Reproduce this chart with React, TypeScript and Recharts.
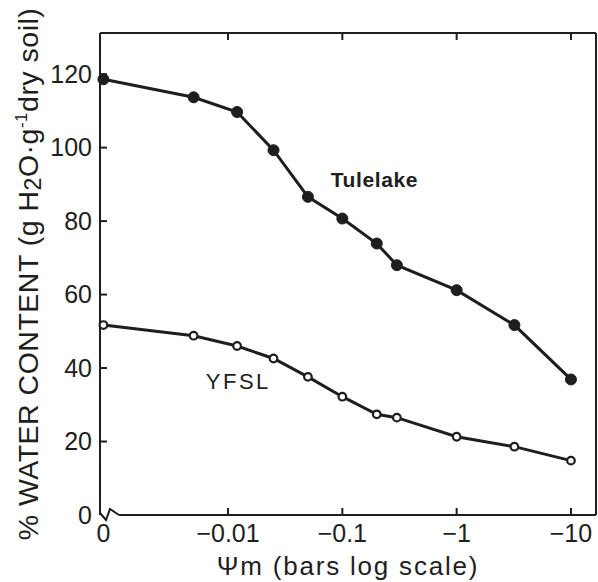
import { LineChart, Line, XAxis, YAxis, ReferenceDot, Label } from "recharts";

// matric potential (bars)
const PSI_BARS = [0, -0.005, -0.012, -0.025, -0.05, -0.1, -0.2, -0.3, -1, -3.2, -10];
// % water content
const TULELAKE = [118.6, 113.7, 109.7, 99.3, 86.6, 80.7, 73.9, 68.0, 61.2, 51.7, 36.9];
const YFSL = [51.7, 48.8, 46.0, 42.6, 37.6, 32.2, 27.4, 26.5, 21.3, 18.6, 14.8];

const X_TICKS = [0, -0.01, -0.1, -1, -10];
const X_TICK_LABELS = ["0", "−0.01", "−0.1", "−1", "−10"];
const Y_TICKS = [0, 20, 40, 60, 80, 100, 120];
const Y_FRAME_TICKS = [20, 40, 60, 80, 100, 120];

// zero has no log, it sits just left of the axis break
const ZERO_POS = -3.09;
const X_DOMAIN: [number, number] = [-3.12, 1.219];
const Y_DOMAIN: [number, number] = [0, 131.2];

const toPos = (psi: number) => (psi === 0 ? ZERO_POS : Math.log10(-psi));

const data = PSI_BARS.map((psi, i) => ({
  pos: toPos(psi),
  tulelake: TULELAKE[i],
  yfsl: YFSL[i],
}));
const xTickPos = X_TICKS.map(toPos);

const INK = "#1e1e1e";
const FONT = "'Liberation Sans', Arial, sans-serif";

function xLabelFor(v: number) {
  let best = 0;
  xTickPos.forEach((p, i) => {
    if (Math.abs(p - v) < Math.abs(xTickPos[best] - v)) best = i;
  });
  return X_TICK_LABELS[best];
}

function XTick(props: any) {
  const { x, y, payload } = props;
  const isZero = Math.abs(payload.value - ZERO_POS) < 1e-6;
  return (
    <g>
      {!isZero && <line x1={x} x2={x} y1={y - 9} y2={y - 16} stroke={INK} strokeWidth={2} />}
      <text x={x} y={y} dy="0.71em" textAnchor="middle" fontFamily={FONT} fontSize={25} fill={INK}>
        {xLabelFor(payload.value)}
      </text>
    </g>
  );
}

function YTick(props: any) {
  const { x, y, payload } = props;
  const ax = x + 8;
  return (
    <g>
      {payload.value !== 0 && <line x1={ax} x2={ax + 7} y1={y} y2={y} stroke={INK} strokeWidth={2} />}
      {payload.value === 0 && (
        <path
          d={`M ${ax} ${y - 2} L ${ax + 6} ${y + 5} L ${ax + 10} ${y - 6} L ${ax + 19} ${y}`}
          fill="none"
          stroke={INK}
          strokeWidth={2}
        />
      )}
      <text x={x} y={y} dy="0.355em" textAnchor="end" fontFamily={FONT} fontSize={25} fill={INK}>
        {payload.value}
      </text>
    </g>
  );
}

function YTitle(props: any) {
  const vb = props.viewBox || { x: 0, y: 33, height: 482 };
  const cx = vb.x + 38;
  const cy = vb.y + vb.height / 2;
  return (
    <text
      x={cx}
      y={cy}
      transform={`rotate(-90 ${cx} ${cy})`}
      textAnchor="middle"
      fontFamily={FONT}
      fontSize={28.5}
      letterSpacing={0.5}
      fill={INK}
    >
      % WATER CONTENT (g H
      <tspan fontSize={23} dy={3}>2</tspan>
      <tspan dy={-3}>O·g</tspan>
      <tspan fontSize={17} dy={-11}>-1</tspan>
      <tspan dy={11}>dry soil)</tspan>
    </text>
  );
}

function XTitle(props: any) {
  const vb = props.viewBox || { x: 100, y: 515, width: 496 };
  return (
    <text
      x={vb.x + vb.width / 2}
      y={vb.y + 60}
      textAnchor="middle"
      fontFamily={FONT}
      fontSize={26}
      letterSpacing={1.8}
      fill={INK}
    >
      Ψm (bars log scale)
    </text>
  );
}

export default function App() {
  return (
    <div style={{ position: "absolute", left: 0, top: 0, background: "#fff" }}>
      <LineChart width={598} height={582} data={data} margin={{ top: 33, right: 2, bottom: 0, left: 0 }}>
        <XAxis
          dataKey="pos"
          type="number"
          domain={X_DOMAIN}
          ticks={xTickPos}
          interval={0}
          height={67}
          tickSize={0}
          tickMargin={9}
          tick={<XTick />}
          axisLine={{ stroke: INK, strokeWidth: 2, strokeDasharray: "0 19 1000" }}
          tickLine={false}
        >
          <Label content={<XTitle />} />
        </XAxis>
        <YAxis
          type="number"
          domain={Y_DOMAIN}
          ticks={Y_TICKS}
          interval={0}
          width={100}
          tickSize={0}
          tickMargin={8}
          tick={<YTick />}
          axisLine={{ stroke: INK, strokeWidth: 2 }}
          tickLine={false}
        >
          <Label content={<YTitle />} />
        </YAxis>
        <XAxis
          xAxisId="top"
          orientation="top"
          mirror
          dataKey="pos"
          type="number"
          domain={X_DOMAIN}
          ticks={xTickPos.slice(1)}
          interval={0}
          tickSize={7}
          tickFormatter={() => ""}
          axisLine={{ stroke: INK, strokeWidth: 2 }}
          tickLine={{ stroke: INK, strokeWidth: 2 }}
        />
        <YAxis
          yAxisId="right"
          orientation="right"
          mirror
          type="number"
          domain={Y_DOMAIN}
          ticks={Y_FRAME_TICKS}
          interval={0}
          tickSize={7}
          tickFormatter={() => ""}
          axisLine={{ stroke: INK, strokeWidth: 2 }}
          tickLine={{ stroke: INK, strokeWidth: 2 }}
        />
        <Line
          dataKey="tulelake"
          type="linear"
          stroke={INK}
          strokeWidth={3}
          dot={{ r: 5.5, fill: INK, stroke: INK, strokeWidth: 1 }}
          isAnimationActive={false}
        />
        <Line
          dataKey="yfsl"
          type="linear"
          stroke={INK}
          strokeWidth={3}
          dot={{ r: 3.8, fill: "#fff", stroke: INK, strokeWidth: 2.2 }}
          isAnimationActive={false}
        />
        <ReferenceDot x={-0.72} y={91.4} r={0} fill="none" stroke="none">
          <Label value="Tulelake" position="center" fontFamily={FONT} fontSize={21} fontWeight="bold" letterSpacing={0.6} fill={INK} />
        </ReferenceDot>
        <ReferenceDot x={-1.91} y={36.5} r={0} fill="none" stroke="none">
          <Label value="YFSL" position="center" fontFamily={FONT} fontSize={22} letterSpacing={2.5} fill={INK} />
        </ReferenceDot>
      </LineChart>
    </div>
  );
}
